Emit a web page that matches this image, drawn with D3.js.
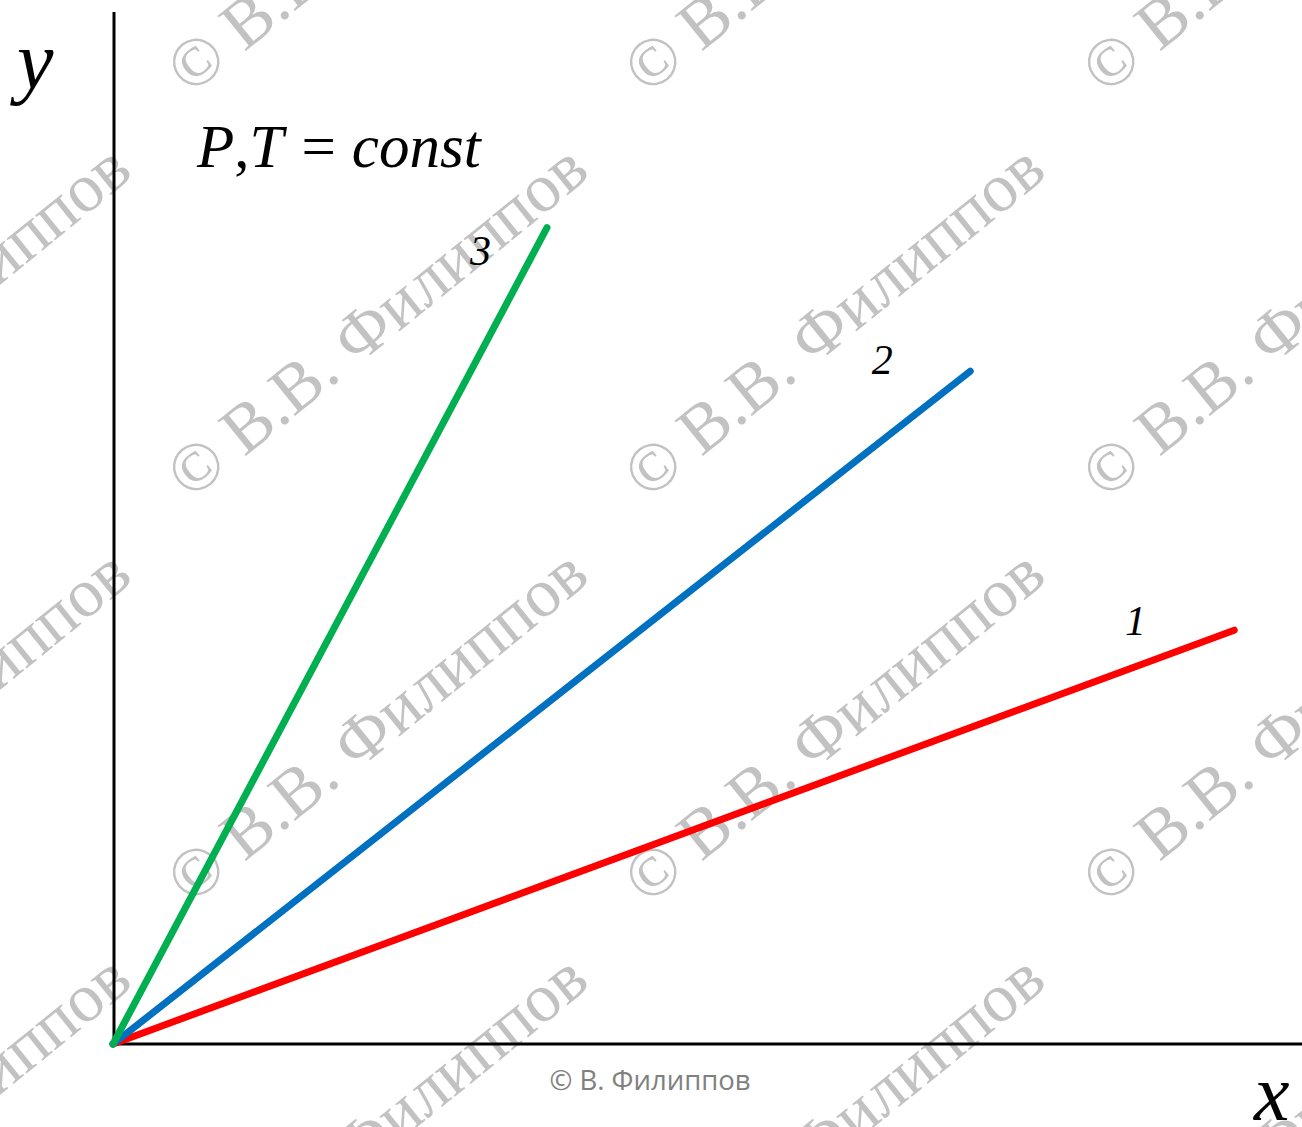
<!DOCTYPE html>
<html><head><meta charset="utf-8">
<script src="https://cdn.jsdelivr.net/npm/d3@7"></script>
<style>html,body{margin:0;padding:0;background:#fff;overflow:hidden}</style>
</head><body>
<svg id="chart" width="1302" height="1127"></svg>
<script>
// Data (arbitrary units): each line from origin to an end point
const lineIds = ["1", "2", "3"];
const lineEndX = [9.43, 7.21, 3.65];
const lineEndY = [4.01, 6.52, 7.91];
const lineColors = ["#ff0000", "#0070c0", "#00b050"];
const lineLabelPos = [[8.6, 3.96], [6.47, 6.49], [3.09, 7.55]];

const svg = d3.select("#chart");
const W = 1302, H = 1127;
const x = d3.scaleLinear().domain([0, 10]).range([113, 1302]);
const y = d3.scaleLinear().domain([0, 10]).range([1044, 12]);

// watermark
const wm = svg.append("g");
const cols = [-257, 200, 657, 1115];
const rows = [60, 465, 870, 1275];
rows.forEach(ry => cols.forEach(cx => {
  wm.append("text")
    .attr("transform", `translate(${cx - 10},${ry + 36}) rotate(-39)`)
    .attr("font-family", "Liberation Serif, Times New Roman, serif")
    .attr("font-size", 69)
    .attr("fill", "#c2c2c2")
    .text("© В.В. Филиппов");
}));

// axes
svg.append("line").attr("x1", x(0) + 1).attr("x2", x(0) + 1).attr("y1", 12).attr("y2", y(0))
  .attr("stroke", "#000").attr("stroke-width", 3);
svg.append("line").attr("x1", x(0)).attr("x2", W).attr("y1", y(0)).attr("y2", y(0))
  .attr("stroke", "#000").attr("stroke-width", 3);

// lines
const gen = d3.line().x(d => x(d[0])).y(d => y(d[1]));
lineIds.forEach((id, i) => {
  svg.append("path")
    .attr("d", gen([[0, 0], [lineEndX[i], lineEndY[i]]]))
    .attr("fill", "none").attr("stroke", lineColors[i])
    .attr("stroke-width", 7).attr("stroke-linecap", "round");
  svg.append("text")
    .attr("x", x(lineLabelPos[i][0])).attr("y", y(lineLabelPos[i][1]))
    .attr("font-family", "Liberation Serif, Times New Roman, serif")
    .attr("font-style", "italic").attr("font-size", 42)
    .attr("text-anchor", "middle").text(id);
});

// axis labels
svg.append("text").attr("x", 17).attr("y", 88)
  .attr("font-family", "Liberation Serif, serif").attr("font-style", "italic")
  .attr("font-size", 82).text("y");
svg.append("text").attr("x", 1254).attr("y", 1120)
  .attr("font-family", "Liberation Serif, serif").attr("font-style", "italic")
  .attr("font-size", 80).text("x");

// formula
const f = svg.append("text").attr("x", 197).attr("y", 167)
  .attr("font-family", "Liberation Serif, serif").attr("font-size", 61);
f.append("tspan").attr("font-style", "italic").text("P");
f.append("tspan").text(",");
f.append("tspan").attr("font-style", "italic").text("T");
f.append("tspan").attr("dx", 18).text("=");
f.append("tspan").attr("dx", 16).attr("font-style", "italic").text("const");

// footer
svg.append("text").attr("x", 650).attr("y", 1090).attr("text-anchor", "middle")
  .attr("font-family", "Open Sans, sans-serif").attr("font-size", 27.5)
  .attr("fill", "#808080").text("© В. Филиппов");
</script>
</body></html>
